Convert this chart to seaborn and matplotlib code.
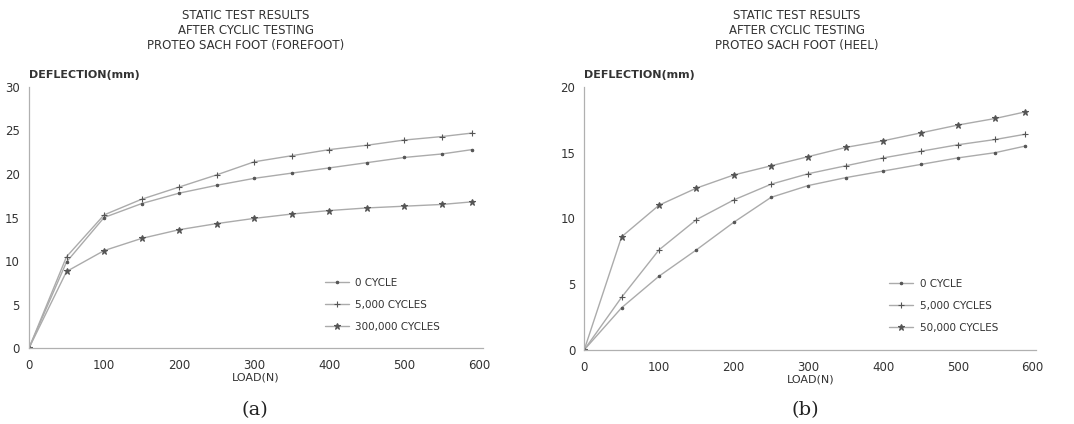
import matplotlib
matplotlib.use("Agg")
import matplotlib.pyplot as plt
import seaborn as sns
import pandas as pd

# loads (N) at which deflection was read
load = [0, 50, 100, 150, 200, 250, 300, 350, 400, 450, 500, 550, 590]

# (a) forefoot
fore_0 = [0, 9.9, 15.0, 16.6, 17.8, 18.7, 19.5, 20.1, 20.7, 21.3, 21.9, 22.3, 22.8]
fore_5k = [0, 10.5, 15.3, 17.1, 18.5, 19.9, 21.4, 22.1, 22.8, 23.3, 23.9, 24.3, 24.7]
fore_300k = [0, 8.8, 11.2, 12.6, 13.6, 14.3, 14.9, 15.4, 15.8, 16.1, 16.3, 16.5, 16.8]

# (b) heel
heel_0 = [0, 3.2, 5.6, 7.6, 9.7, 11.6, 12.5, 13.1, 13.6, 14.1, 14.6, 15.0, 15.5]
heel_5k = [0, 4.0, 7.6, 9.9, 11.4, 12.6, 13.4, 14.0, 14.6, 15.1, 15.6, 16.0, 16.4]
heel_50k = [0, 8.6, 11.0, 12.3, 13.3, 14.0, 14.7, 15.4, 15.9, 16.5, 17.1, 17.6, 18.1]

labels_a = ["0 CYCLE", "5,000 CYCLES", "300,000 CYCLES"]
labels_b = ["0 CYCLE", "5,000 CYCLES", "50,000 CYCLES"]

sns.set_style("white")
plt.rcParams['font.family'] = ['DejaVu Sans']

fig = plt.figure(figsize=(10.74, 4.24), dpi=100)
ax1 = fig.add_axes([0.027, 0.179, 0.423, 0.616])
ax2 = fig.add_axes([0.544, 0.175, 0.421, 0.620])

line_col = "#ababab"
mark_col = "#555555"
text_col = "#333333"
markers = [".", "+", "*"]
msizes = [3.5, 5, 5]


def draw(ax, series, labels, ymax, title, panel, xc, leg_x, leg_y):
    for vals, lab, m, ms in zip(series, labels, markers, msizes):
        df = pd.DataFrame({"load": load, "defl": vals})
        sns.lineplot(data=df, x="load", y="defl", ax=ax, color=line_col, lw=1.0,
                     marker=m, markersize=ms, markeredgecolor=mark_col,
                     markerfacecolor=mark_col, markeredgewidth=0.8, label=lab)
    ax.set_xlim(0, 605)
    ax.set_ylim(0, ymax)
    ax.set_xticks(range(0, 601, 100))
    ax.set_yticks(range(0, ymax + 1, 5))
    ax.set_xlabel("")
    ax.set_ylabel("")
    for s in ["top", "right"]:
        ax.spines[s].set_visible(False)
    for s in ["left", "bottom"]:
        ax.spines[s].set_color("#b0b0b0")
        ax.spines[s].set_linewidth(0.9)
    ax.tick_params(axis="x", pad=5)
    ax.tick_params(axis="both", colors="#b0b0b0", labelcolor=text_col,
                   labelsize=8.5, length=3, width=0.8, direction="out")
    ax.patch.set_alpha(0)
    leg = ax.legend(loc="upper left", bbox_to_anchor=(leg_x, leg_y), frameon=False,
                    fontsize=7.5, handlelength=2.3, labelspacing=1.15, handletextpad=0.6,
                    borderaxespad=0, borderpad=0)
    for t in leg.get_texts():
        t.set_color(text_col)
    ax.text(0.0, 1.025, "DEFLECTION(mm)", transform=ax.transAxes, fontsize=8,
            fontweight="bold", color=text_col, ha="left", va="bottom")
    ax.text(0.5, -0.095, "LOAD(N)", transform=ax.transAxes, fontsize=8,
            color=text_col, ha="center", va="top")
    fig.text(xc, 0.012, panel, fontsize=14, family="DejaVu Serif",
             color="#222222", ha="center", va="bottom")
    fig.text(xc - 0.008, 0.978, title, fontsize=8.5, color=text_col,
             ha="center", va="top", linespacing=1.2)


draw(ax1, [fore_0, fore_5k, fore_300k], labels_a, 30,
     "STATIC TEST RESULTS\nAFTER CYCLIC TESTING\nPROTEO SACH FOOT (FOREFOOT)", "(a)", 0.237,
     0.652, 0.268)
draw(ax2, [heel_0, heel_5k, heel_50k], labels_b, 20,
     "STATIC TEST RESULTS\nAFTER CYCLIC TESTING\nPROTEO SACH FOOT (HEEL)", "(b)", 0.750,
     0.675, 0.270)

fig.savefig("out.png", dpi=100)
